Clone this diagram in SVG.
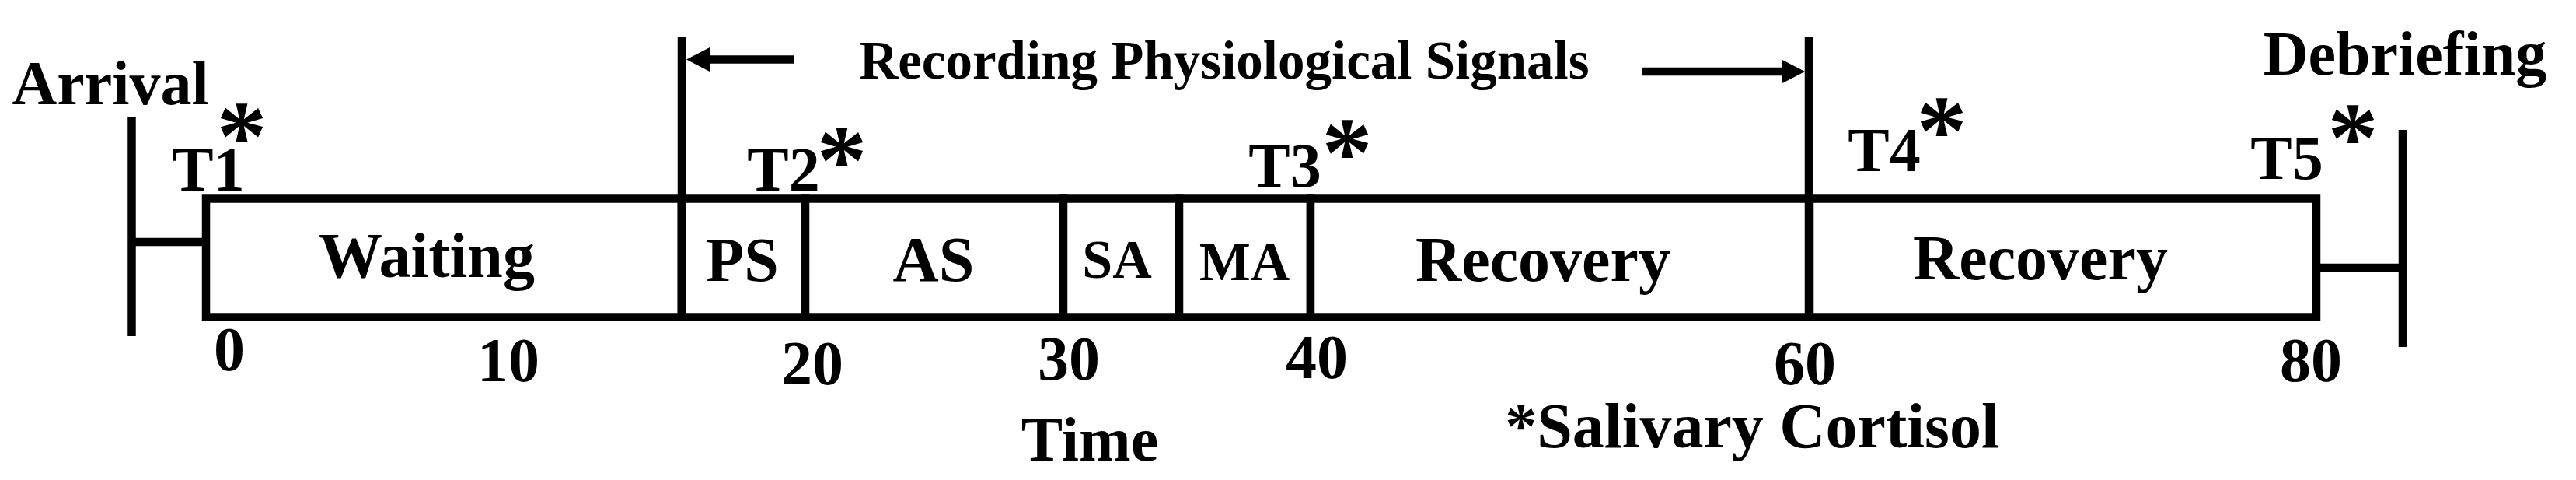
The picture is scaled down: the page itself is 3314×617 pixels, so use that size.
<svg xmlns="http://www.w3.org/2000/svg" width="3314" height="617" viewBox="0 0 3314 617">
<style>
text{font-family:"Liberation Serif","Times New Roman",serif;font-weight:bold;fill:#000;text-anchor:middle}
.lbl{font-size:82px}
.sm{font-size:70px}
.t{font-size:80px}
.ast{font-size:130px}
.num{font-size:80px}
.seg{fill:#fff;stroke:#000;stroke-width:10.5}
.ln{stroke:#000;stroke-width:10.5;fill:none}
</style>
<defs>
<marker id="ah" markerUnits="userSpaceOnUse" markerWidth="32" markerHeight="32" refX="8" refY="15.5" orient="auto">
<path d="M0,0 L30,15.5 L0,31 z" fill="#000"/>
</marker>
</defs>
<rect width="3314" height="617" fill="#fff"/>
<g id="waiting"><rect class="seg" x="265" y="255.5" width="612" height="152"/><text class="lbl" x="549" y="356">Waiting</text></g>
<g id="ps"><rect class="seg" x="877" y="255.5" width="159" height="152"/><text class="t" x="955" y="361">PS</text></g>
<g id="as"><rect class="seg" x="1036" y="255.5" width="332" height="152"/><text class="lbl" x="1201" y="361">AS</text></g>
<g id="sa"><rect class="seg" x="1368" y="255.5" width="149" height="152"/><text class="sm" x="1437" y="357">SA</text></g>
<g id="ma"><rect class="seg" x="1517" y="255.5" width="169" height="152"/><text class="sm" x="1601" y="360">MA</text></g>
<g id="recovery1"><rect class="seg" x="1686" y="255.5" width="642" height="152"/><text class="lbl" x="1985" y="361">Recovery</text></g>
<g id="recovery2"><rect class="seg" x="2328" y="255.5" width="652" height="152"/><text class="lbl" x="2625" y="359">Recovery</text></g>
<g id="connectors">
<line class="ln" x1="169.5" y1="151" x2="169.5" y2="432"/>
<line class="ln" x1="169.5" y1="311" x2="265" y2="311"/>
<line class="ln" x1="3091" y1="167" x2="3091" y2="446"/>
<line class="ln" x1="2980" y1="344" x2="3091" y2="344"/>
<line class="ln" x1="877" y1="47" x2="877" y2="413"/>
<line class="ln" x1="2327" y1="47" x2="2327" y2="407"/>
<line class="ln" x1="1022" y1="76.5" x2="905" y2="76.5" marker-end="url(#ah)"/>
<line class="ln" x1="2113" y1="92" x2="2300" y2="92" marker-end="url(#ah)"/>
</g>
<g id="labels">
<text class="t" x="142" y="134">Arrival</text>
<text class="t" x="3094" y="96">Debriefing</text>
<text style="font-size:69px" x="1575" y="101">Recording Physiological Signals</text>
<text class="t" x="268" y="245">T1</text>
<text class="ast" x="311" y="219">*</text>
<text class="t" x="1008" y="245">T2</text>
<text class="ast" x="1083" y="250">*</text>
<text class="t" x="1653" y="240">T3</text>
<text class="ast" x="1733" y="240">*</text>
<text class="t" x="2424" y="220">T4</text>
<text class="ast" x="2498" y="212">*</text>
<text class="t" x="2942" y="230">T5</text>
<text class="ast" x="3027" y="221">*</text>
<text class="num" x="295" y="476">0</text>
<text class="num" x="654" y="490">10</text>
<text class="num" x="1045" y="494">20</text>
<text class="num" x="1375" y="488">30</text>
<text class="num" x="1694" y="486">40</text>
<text class="num" x="2322" y="494">60</text>
<text class="num" x="2973" y="490">80</text>
<text class="t" x="1402" y="592">Time</text>
<text class="lbl" x="2254" y="575">*Salivary Cortisol</text>
</g>
</svg>
